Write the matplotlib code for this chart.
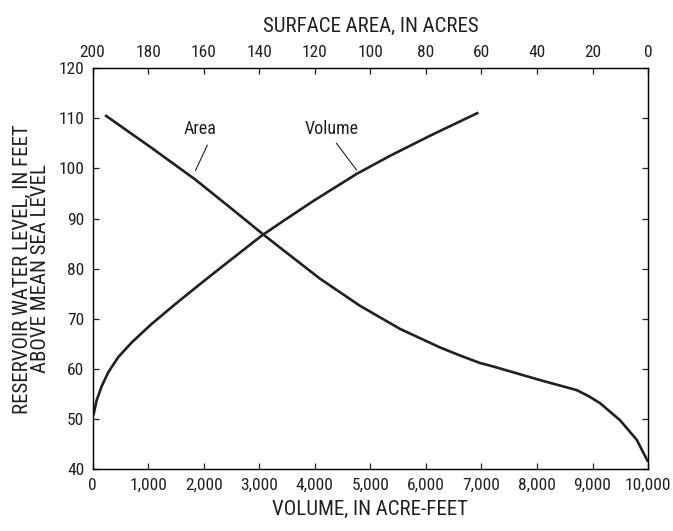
import matplotlib
matplotlib.use("Agg")
import matplotlib.pyplot as plt

# Elevation-capacity table for the reservoir
volume_acft = [15, 75, 165, 285, 465, 705, 1065, 1485, 1966, 2400, 3046, 3459,
               3975, 4756, 5356, 6076, 6945]
volume_elev = [50.8, 53.8, 56.6, 59.4, 62.4, 65.3, 69.0, 72.9, 77.2, 81.0, 86.6, 89.7,
               93.5, 98.9, 102.5, 106.5, 111.1]

area_acres = [195.5, 178.8, 163.1, 148.7, 138.5, 132.5, 118.1, 103.7, 89.3,
              74.9, 67.7, 60.5, 55.7, 38.9, 25.7, 21.4, 17.3, 10.1, 4.1, 0.0]
area_elev = [110.6, 104.1, 97.8, 91.4, 86.8, 84.2, 78.0, 72.6, 68.0,
             64.3, 62.7, 61.2, 60.5, 57.8, 55.8, 54.6, 53.2, 49.8, 45.9, 41.5]

vol_ticks = [0, 1000, 2000, 3000, 4000, 5000, 6000, 7000, 8000, 9000, 10000]
vol_labels = ["0", "1,000", "2,000", "3,000", "4,000", "5,000", "6,000",
              "7,000", "8,000", "9,000", "10,000"]
area_ticks = [200, 180, 160, 140, 120, 100, 80, 60, 40, 20, 0]
elev_ticks = [40, 50, 60, 70, 80, 90, 100, 110, 120]

plt.rcParams["font.family"] = ["Roboto Condensed", "Archivo Narrow", "DejaVu Sans"]
ink = "#231f20"
tick_fs = 12.5
title_fs = 15

fig = plt.figure(figsize=(6.73, 5.31), dpi=100)
ax = fig.add_axes([0.1375, 0.116, 0.8255, 0.756])
ax.plot(volume_acft, volume_elev, color=ink, lw=1.9, solid_capstyle="butt",
        solid_joinstyle="round")
ax.set_xlim(0, 10000)
ax.set_ylim(40, 120)
ax.set_xticks(vol_ticks)
ax.set_xticklabels(vol_labels)
ax.set_yticks(elev_ticks)
ax.tick_params(direction="in", length=4, width=0.9, labelsize=tick_fs,
               colors=ink, pad=6, right=True)
ax.tick_params(axis="y", labelright=False)
for s in ax.spines.values():
    s.set_linewidth(1.0)
    s.set_color(ink)
ax.set_xlabel("VOLUME, IN ACRE-FEET", fontsize=title_fs, color=ink, labelpad=5)
ax.set_ylabel("RESERVOIR WATER LEVEL, IN FEET\nABOVE MEAN SEA LEVEL",
              fontsize=title_fs, color=ink, labelpad=6, linespacing=0.95)

# surface area on the top axis, reversed
ax2 = ax.twiny()
ax2.plot(area_acres, area_elev, color=ink, lw=1.9, solid_capstyle="butt",
         solid_joinstyle="round")
ax2.set_xlim(200, 0)
ax2.set_xticks(area_ticks)
ax2.tick_params(direction="in", length=4, width=0.9, labelsize=tick_fs,
                colors=ink, pad=6)
ax2.set_xlabel("SURFACE AREA, IN ACRES", fontsize=title_fs, color=ink, labelpad=9)

# curve labels with leader lines
ax.text(1930, 107.8, "Area", fontsize=13, color=ink, ha="center", va="center")
ax.plot([2065, 1855], [104.6, 99.6], color=ink, lw=0.8)
ax.text(4300, 107.8, "Volume", fontsize=13, color=ink, ha="center", va="center")
ax.plot([4390, 4750], [105.0, 99.7], color=ink, lw=0.8)

fig.savefig("out.png", dpi=100)
